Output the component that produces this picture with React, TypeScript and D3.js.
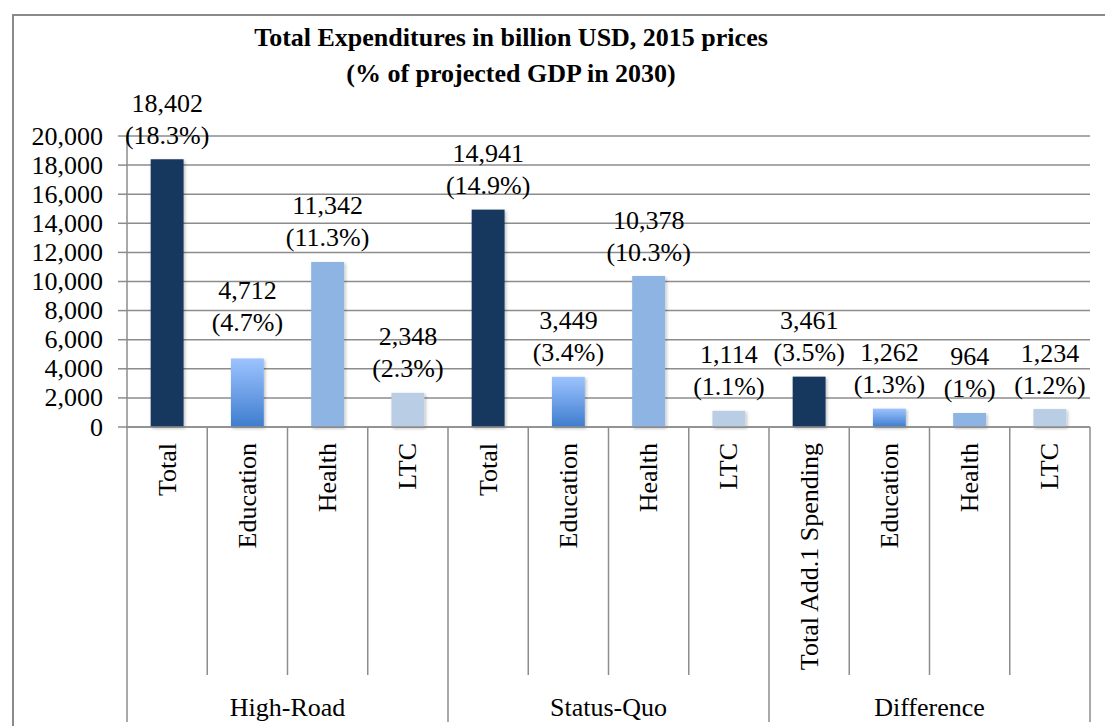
import React from "react";
import * as d3 from "d3";

const groups = ["High-Road", "Status-Quo", "Difference"];
const categories = [
  "Total", "Education", "Health", "LTC",
  "Total", "Education", "Health", "LTC",
  "Total Add.1 Spending", "Education", "Health", "LTC",
];
const kinds = ["total", "edu", "health", "ltc", "total", "edu", "health", "ltc", "total", "edu", "health", "ltc"];
const values = [18402, 4712, 11342, 2348, 14941, 3449, 10378, 1114, 3461, 1262, 964, 1234];
const valueLabels = ["18,402", "4,712", "11,342", "2,348", "14,941", "3,449", "10,378", "1,114", "3,461", "1,262", "964", "1,234"];
const pctLabels = ["(18.3%)", "(4.7%)", "(11.3%)", "(2.3%)", "(14.9%)", "(3.4%)", "(10.3%)", "(1.1%)", "(3.5%)", "(1.3%)", "(1%)", "(1.2%)"];
const yTicks = [0, 2000, 4000, 6000, 8000, 10000, 12000, 14000, 16000, 18000, 20000];

const W = 1105;
const H = 726;
const FONT = "'Liberation Serif', 'Times New Roman', serif";

const fills: Record<string, string> = {
  total: "#17375E",
  edu: "url(#eduGrad)",
  health: "#8EB4E3",
  ltc: "#B9CDE5",
};

export default function App() {
  const left = 127;
  const right = 1090;
  const y = d3.scaleLinear().domain([0, 20000]).range([427, 136]);
  const x = d3
    .scaleBand<number>()
    .domain(d3.range(categories.length))
    .range([left, right])
    .padding(0);
  const bw = x.bandwidth() * 0.41;
  const gridColor = "#8C8C8C";
  const y0 = y(0);
  const groupSize = 4;
  const catLineEnd = 675;
  const groupLineEnd = 722;
  const fmt = d3.format(",");

  return (
    <svg
      width={W}
      height={H}
      style={{ position: "absolute", left: 0, top: 0, display: "block", background: "#fff" }}
      fontFamily={FONT}
    >
      <defs>
        <linearGradient id="eduGrad" x1="0" y1="0" x2="0" y2="1">
          <stop offset="0%" stopColor="#9DC3FF" />
          <stop offset="100%" stopColor="#3E7DCE" />
        </linearGradient>
        <filter id="shadow" x="-20%" y="-20%" width="140%" height="140%">
          <feDropShadow dx="1.5" dy="1.5" stdDeviation="1.5" floodColor="#000" floodOpacity="0.25" />
        </filter>
      </defs>
      <rect x={W - W} y={0} width={W} height={H} fill="#fff" />
      {/* outer border */}
      <rect x={13} y={15} width={1120} height={760} fill="none" stroke="#8A8A8A" strokeWidth={2} />

      {/* title */}
      <text x={511} y={46} textAnchor="middle" fontSize={26} fontWeight="bold" fill="#000">
        Total Expenditures in billion USD, 2015 prices
      </text>
      <text x={511} y={82} textAnchor="middle" fontSize={26} fontWeight="bold" fill="#000">
        (% of projected GDP in 2030)
      </text>

      {/* gridlines and y ticks */}
      {yTicks.map((t) => (
        <g key={t}>
          <line x1={left} x2={right} y1={y(t)} y2={y(t)} stroke={gridColor} strokeWidth={1.5} />
          <line x1={118} x2={left} y1={y(t)} y2={y(t)} stroke={gridColor} strokeWidth={1.5} />
          <text x={103} y={y(t)} textAnchor="end" dominantBaseline="central" fontSize={26} fill="#000">
            {fmt(t)}
          </text>
        </g>
      ))}
      {/* y axis */}
      <line x1={left} x2={left} y1={y(20000)} y2={y0} stroke={gridColor} strokeWidth={1.5} />

      {/* bars */}
      {values.map((v, i) => {
        const cx = (x(i) as number) + x.bandwidth() / 2;
        return (
          <rect
            key={i}
            x={cx - bw / 2}
            y={y(v)}
            width={bw}
            height={y0 - y(v)}
            fill={fills[kinds[i]]}
            filter="url(#shadow)"
          />
        );
      })}

      {/* x axis line */}
      <line x1={left} x2={right} y1={y0} y2={y0} stroke={gridColor} strokeWidth={1.5} />

      {/* category separators */}
      {d3.range(categories.length + 1).map((i) => {
        const xx = i < categories.length ? (x(i) as number) : right;
        const isGroup = i % groupSize === 0;
        return (
          <line
            key={i}
            x1={xx}
            x2={xx}
            y1={y0}
            y2={isGroup ? groupLineEnd : catLineEnd}
            stroke={gridColor}
            strokeWidth={1.5}
          />
        );
      })}

      {/* category labels */}
      {categories.map((c, i) => {
        const cx = (x(i) as number) + x.bandwidth() / 2;
        return (
          <text
            key={i}
            transform={`translate(${cx},443) rotate(-90)`}
            textAnchor="end"
            dominantBaseline="central"
            fontSize={26}
            fill="#000"
          >
            {c}
          </text>
        );
      })}

      {/* group labels */}
      {groups.map((g, gi) => {
        const x0 = x(gi * groupSize) as number;
        const x1 = gi * groupSize + groupSize < categories.length ? (x(gi * groupSize + groupSize) as number) : right;
        return (
          <text key={g} x={(x0 + x1) / 2} y={707} textAnchor="middle" dominantBaseline="central" fontSize={26} fill="#000">
            {g}
          </text>
        );
      })}

      {/* data labels */}
      {values.map((v, i) => {
        const cx = (x(i) as number) + x.bandwidth() / 2;
        const lift = i === 1 ? 12 : 0;
        const pctY = y(v) - 24 - lift;
        return (
          <g key={i}>
            <text x={cx} y={pctY - 32} textAnchor="middle" dominantBaseline="central" fontSize={26} fill="#000">
              {valueLabels[i]}
            </text>
            <text x={cx} y={pctY} textAnchor="middle" dominantBaseline="central" fontSize={26} fill="#000">
              {pctLabels[i]}
            </text>
          </g>
        );
      })}
    </svg>
  );
}
